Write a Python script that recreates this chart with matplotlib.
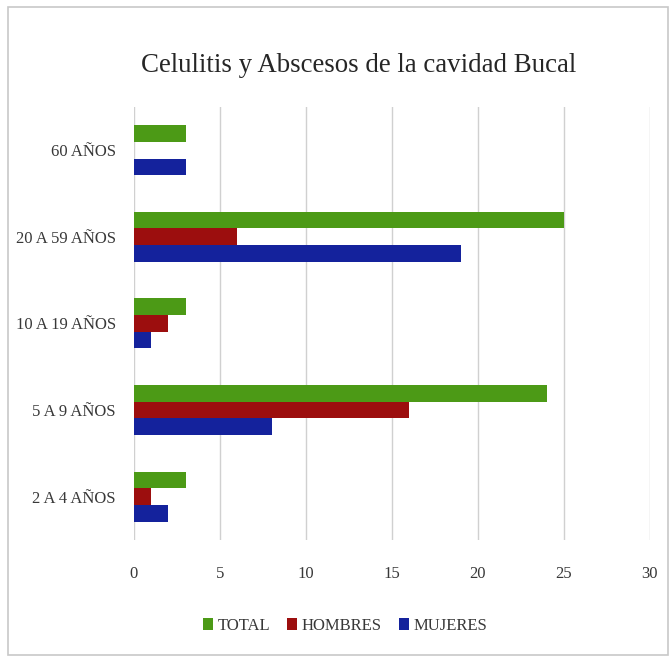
import numpy as np
import matplotlib
matplotlib.use('Agg')
from matplotlib import pyplot as plt
from matplotlib.patches import Rectangle

# Data
categorias = ['2 A 4 AÑOS', '5 A 9 AÑOS', '10 A 19 AÑOS', '20 A 59 AÑOS', '60 AÑOS']
total = [3, 24, 3, 25, 3]
hombres = [1, 16, 2, 6, 0]
mujeres = [2, 8, 1, 19, 3]
series = [('TOTAL', total, '#4c9a16'), ('HOMBRES', hombres, '#9c0e0e'),
          ('MUJERES', mujeres, '#14229c')]
xticks = [0, 5, 10, 15, 20, 25, 30]

plt.rcParams['font.family'] = ['Liberation Serif', 'DejaVu Serif']

fig = plt.figure(figsize=(6.7, 6.6), dpi=100)
ax = fig.add_axes([0.2, 0.182, 0.77, 0.656])

# outer frame of the chart
fig.patches.append(Rectangle((0.012, 0.008), 0.985, 0.981, transform=fig.transFigure,
                             fill=False, edgecolor='#c8c8c8', linewidth=1.2))

y = np.arange(len(categorias))
h = 0.193
for k, (name, vals, color) in enumerate(series):
    ax.barh(y + (1 - k) * h, vals, height=h, color=color, label=name, zorder=2)

ax.set_xlim(0, 30)
ax.set_ylim(-0.5, len(categorias) - 0.5)
ax.set_xticks(xticks)
ax.set_yticks(y)
ax.set_yticklabels(categorias)
ax.grid(axis='x', color='#d0d0d0', linewidth=1, zorder=0)
for s in ax.spines.values():
    s.set_visible(False)
ax.tick_params(length=0, labelsize=12, colors='#383838')
ax.tick_params(axis='x', pad=19)
ax.tick_params(axis='y', pad=13)

fig.text(0.535, 0.9, 'Celulitis y Abscesos de la cavidad Bucal',
         ha='center', va='center', fontsize=19.4, color='#262626')

fig.legend(loc='center', bbox_to_anchor=(0.515, 0.052), ncol=3, frameon=False,
           fontsize=12, handlelength=0.6, handleheight=0.8, handletextpad=0.3,
           columnspacing=1.0, labelcolor='#383838')

fig.savefig('out.png', dpi=100)
